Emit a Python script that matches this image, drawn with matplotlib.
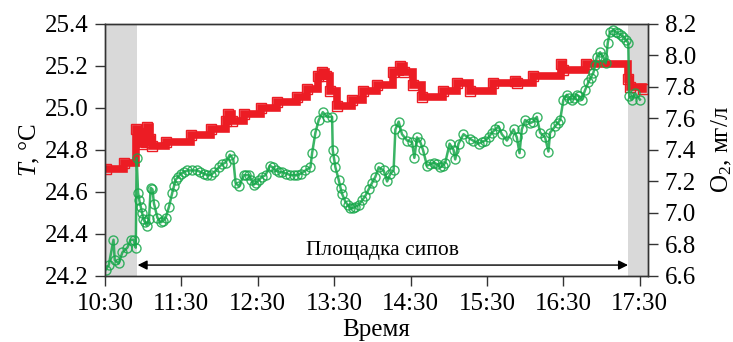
"""
Temperature and dissolved oxygen during the survey, 10:30-17:30.
Two y-axes: T (left, step series) and O2 (right).
"""

import matplotlib
matplotlib.use("Agg")
import matplotlib.pyplot as plt

# time axis: minutes after 10:30
tick_minutes = [0, 60, 120, 180, 240, 300, 360, 420]
tick_labels = ["10:30", "11:30", "12:30", "13:30", "14:30", "15:30", "16:30", "17:30"]
t_ticks = [24.2, 24.4, 24.6, 24.8, 25.0, 25.2, 25.4]
o2_ticks = [6.6, 6.8, 7.0, 7.2, 7.4, 7.6, 7.8, 8.0, 8.2]

# temperature, change points (minutes, degC)
t_minutes = [0.6, 14.7, 24.2, 26.5, 28.9, 30.4, 32.0, 33.2, 35.1, 36.7,
             47.7, 67.3, 83.0, 94.7, 97.0, 99.4, 109.0, 122.2, 135.5, 151.2,
             159.0, 167.7, 170.8, 174.0, 177.1, 182.6, 194.3, 202.9, 214.0, 226.5,
             232.0, 235.0, 242.2, 249.2, 265.7, 276.7, 287.0, 305.0, 322.0, 324.0,
             336.3, 358.0, 360.0, 378.0, 411.0, 412.5, 422.5]
t_values = [24.71, 24.74, 24.90, 24.86, 24.83, 24.88, 24.84, 24.91, 24.85, 24.82,
            24.84, 24.87, 24.90, 24.94, 24.97, 24.94, 24.97, 25.00, 25.03, 25.05,
            25.09, 25.15, 25.17, 25.15, 25.08, 25.01, 25.04, 25.08, 25.11, 25.17,
            25.20, 25.17, 25.11, 25.05, 25.08, 25.12, 25.08, 25.12, 25.13, 25.12,
            25.15, 25.21, 25.18, 25.21, 25.14, 25.10, 25.09]

# dissolved oxygen (minutes, mg/l)
o2_minutes = [0.6, 3.0, 6.7, 7.7, 10.8, 13.7, 17.6, 20.2, 22.6, 24.2,
              24.9, 26.0, 27.0, 28.1, 29.2, 30.2, 31.5, 32.8, 34.6, 35.9,
              37.3, 38.5, 41.2, 43.8, 45.8, 47.7, 50.3, 52.9, 54.2, 55.5,
              57.5, 59.5, 62.0, 64.7, 68.5, 72.5, 75.0, 77.7, 80.5, 83.0,
              86.0, 89.5, 92.0, 94.7, 98.1, 100.8, 102.6, 105.2, 109.1, 111.0,
              113.0, 115.0, 116.9, 118.9, 120.9, 123.5, 126.1, 129.5, 131.7, 134.0,
              136.6, 139.2, 142.5, 145.7, 148.3, 151.0, 154.0, 157.5, 161.4, 162.7,
              165.3, 167.9, 171.1, 174.5, 178.4, 178.9, 180.0, 181.0, 183.6, 185.0,
              186.3, 188.9, 190.8, 192.8, 194.8, 196.7, 199.3, 202.0, 204.6, 207.1,
              209.7, 212.4, 215.0, 218.9, 221.6, 224.2, 226.7, 228.1, 230.7, 233.3,
              237.3, 241.2, 243.0, 245.1, 247.7, 249.8, 252.9, 255.5, 258.1, 260.8,
              263.4, 265.4, 267.3, 270.7, 273.8, 275.1, 277.7, 281.6, 286.9, 289.0,
              293.4, 296.0, 298.7, 301.3, 303.9, 306.5, 309.1, 311.7, 315.7, 320.9,
              323.5, 325.6, 327.4, 330.0, 333.9, 336.5, 339.2, 341.8, 345.7, 348.3,
              349.6, 353.5, 355.5, 357.5, 360.1, 362.7, 364.7, 366.7, 368.6, 370.6,
              372.5, 374.5, 377.1, 379.7, 381.6, 383.6, 385.0, 386.3, 388.9, 391.5,
              393.3, 394.9, 396.7, 399.3, 401.2, 403.2, 405.2, 407.1, 409.0, 411.0,
              411.8, 413.7, 416.3, 420.2]
o2_values = [6.64, 6.67, 6.83, 6.70, 6.68, 6.75, 6.78, 6.83, 6.83, 6.78,
             7.35, 7.13, 7.08, 7.04, 7.00, 6.96, 6.94, 6.92, 6.96, 7.16,
             7.15, 7.06, 6.97, 6.94, 6.95, 6.97, 7.04, 7.13, 7.17, 7.21,
             7.23, 7.25, 7.26, 7.27, 7.27, 7.27, 7.26, 7.25, 7.24, 7.24,
             7.26, 7.29, 7.31, 7.32, 7.37, 7.34, 7.19, 7.17, 7.24, 7.24,
             7.24, 7.21, 7.18, 7.19, 7.21, 7.23, 7.24, 7.30, 7.29, 7.27,
             7.26, 7.26, 7.25, 7.24, 7.24, 7.24, 7.25, 7.27, 7.29, 7.38,
             7.51, 7.59, 7.64, 7.61, 7.61, 7.40, 7.34, 7.29, 7.21, 7.16,
             7.12, 7.07, 7.05, 7.03, 7.03, 7.04, 7.05, 7.08, 7.11, 7.15,
             7.19, 7.23, 7.29, 7.27, 7.20, 7.25, 7.27, 7.53, 7.58, 7.50,
             7.46, 7.45, 7.35, 7.48, 7.45, 7.40, 7.30, 7.31, 7.32, 7.31,
             7.29, 7.30, 7.32, 7.44, 7.40, 7.34, 7.44, 7.50, 7.47, 7.46,
             7.44, 7.45, 7.46, 7.48, 7.51, 7.53, 7.55, 7.50, 7.46, 7.53,
             7.48, 7.38, 7.53, 7.59, 7.57, 7.58, 7.61, 7.51, 7.48, 7.39,
             7.51, 7.55, 7.57, 7.59, 7.72, 7.75, 7.73, 7.72, 7.73, 7.75,
             7.74, 7.72, 7.78, 7.83, 7.86, 7.89, 7.94, 7.99, 8.02, 7.99,
             7.95, 8.08, 8.15, 8.16, 8.15, 8.14, 8.13, 8.12, 8.10, 8.08,
             7.74, 7.72, 7.76, 7.72]

# shaded periods off the site, and the site interval (minutes)
shade_left = (0, 25.5)
shade_right = (411.0, 426.5)
site_span = (25.7, 410.8)
site_label = "Площадка сипов"

RED = "#ec1c24"
GREEN = "#17a74a"

plt.rcParams["font.family"] = ["Liberation Serif", "DejaVu Serif"]
plt.rcParams["mathtext.fontset"] = "custom"
plt.rcParams["mathtext.rm"] = "Liberation Serif"
plt.rcParams["mathtext.it"] = "Liberation Serif:italic"
plt.rcParams["font.size"] = 18

fig = plt.figure(figsize=(7.33, 3.42), dpi=100)
ax = fig.add_axes([0.1432, 0.193, 0.7408, 0.737])
ax2 = ax.twinx()

ax.axvspan(*shade_left, color="#d9d9d9", lw=0, zorder=0)
ax.axvspan(*shade_right, color="#d9d9d9", lw=0, zorder=0)

# temperature as a thick step line with open square marks
ax.plot(t_minutes, t_values, drawstyle="steps-post", color=RED, lw=5.5,
        solid_joinstyle="miter", zorder=2)
ax.plot(t_minutes, t_values, ls="none", marker="s", ms=6.5, mfc="none",
        mec=RED, mew=1.0, zorder=3)

# oxygen on the right axis, drawn on top
ax2.plot(o2_minutes, o2_values, color=GREEN, lw=1.8, marker="o", ms=6.5,
         mfc="none", mec=GREEN, mew=1.0, alpha=0.85)

# arrow showing time at the site
ax.annotate("", xy=(site_span[0], 24.252), xytext=(site_span[1], 24.252),
            arrowprops=dict(arrowstyle="<|-|>", color="black", lw=1.0,
                            mutation_scale=14, shrinkA=0, shrinkB=0))
ax.text(sum(site_span) / 2, 24.275, site_label, ha="center", va="bottom",
        fontsize=15.5)

ax.set_xlim(0, 426.5)
ax.set_ylim(24.2, 25.4)
ax2.set_ylim(6.6, 8.2)
ax.set_xticks(tick_minutes)
ax.set_xticklabels(tick_labels)
ax.set_yticks(t_ticks)
ax.set_yticklabels([f"{v:.1f}" for v in t_ticks])
ax2.set_yticks(o2_ticks)
ax2.set_yticklabels([f"{v:.1f}" for v in o2_ticks])

for a in (ax, ax2):
    a.tick_params(direction="out", length=7, width=1.0, color="#333333", pad=5)
    for s in a.spines.values():
        s.set_color("#333333")
        s.set_linewidth(1.0)

ax.set_xlabel("Время", labelpad=3)
ax.set_ylabel("$T$, °C", labelpad=2)
ax2.set_ylabel("O$_2$, мг/л", labelpad=10)

fig.savefig("out.png", dpi=100, facecolor="white")
